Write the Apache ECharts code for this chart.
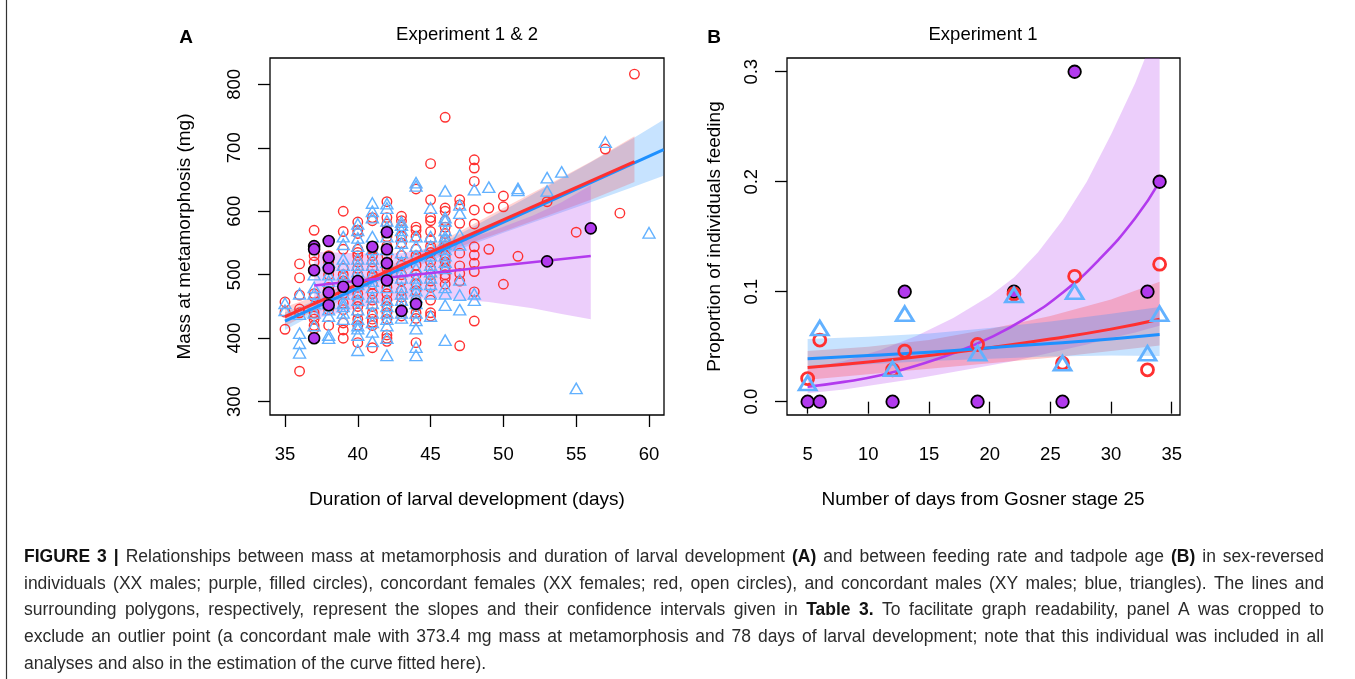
<!DOCTYPE html>
<html>
<head>
<meta charset="utf-8">
<script src="https://cdn.jsdelivr.net/npm/echarts@6/dist/echarts.min.js"></script>
<style>
html,body{margin:0;padding:0;background:#fff;}
#chart{width:1355px;height:679px;}
</style>
</head>
<body>
<div id="chart"></div>
<script>
// ---------- Panel A data: [days, mass mg] ----------
const femalesA = [
 [35,457],[35,441],[35,414],
 [36,517],[36,495],[36,468],[36,446],[36,440],[36,348],
 [37,570],[37,530],[37,520],[37,470],[37,465],[37,440],[37,435],[37,430],[37,420],[37,415],
 [38,530],[38,520],[38,500],[38,480],[38,460],[38,445],[38,420],
 [39,600],[39,568],[39,540],[39,510],[39,500],[39,490],[39,470],[39,455],[39,445],[39,424],[39,413],[39,400],
 [40,583],[40,570],[40,565],[40,540],[40,535],[40,530],[40,520],[40,510],[40,500],[40,480],[40,470],[40,460],[40,450],[40,440],[40,430],[40,420],[40,393],
 [41,590],[41,585],[41,540],[41,530],[41,520],[41,510],[41,500],[41,485],[41,470],[41,460],[41,450],[41,440],[41,430],[41,425],[41,420],[41,385],
 [42,615],[42,590],[42,580],[42,570],[42,560],[42,545],[42,530],[42,520],[42,510],[42,500],[42,480],[42,470],[42,460],[42,450],[42,440],[42,430],[42,405],[42,400],[42,395],
 [43,592],[43,585],[43,575],[43,560],[43,550],[43,530],[43,515],[43,500],[43,490],[43,475],[43,465],[43,455],[43,445],[43,435],
 [44,635],[44,575],[44,570],[44,560],[44,540],[44,530],[44,515],[44,500],[44,485],[44,475],[44,460],[44,450],[44,440],[44,431],[44,393],
 [45,675],[45,618],[45,590],[45,585],[45,568],[45,555],[45,545],[45,535],[45,520],[45,510],[45,500],[45,490],[45,480],[45,460],[45,440],[45,435],
 [46,748],[46,605],[46,600],[46,585],[46,575],[46,565],[46,555],[46,545],[46,530],[46,525],[46,520],[46,510],[46,500],[46,495],[46,485],
 [47,618],[47,610],[47,581],[47,534],[47,514],[47,502],[47,490],[47,388],
 [48,681],[48,668],[48,647],[48,602],[48,580],[48,544],[48,531],[48,518],[48,505],[48,473],[48,427],
 [49,605],[49,540],
 [50,624],[50,607],[50,485],
 [51,529],[53,615],[55,567],[57,698],[58,597],[59,816]
];
const malesA = [
 [35,455],[35,444],
 [36,470],[36,438],[36,408],[36,392],[36,377],
 [37,500],[37,480],[37,470],[37,455],[37,440],[37,420],
 [38,520],[38,500],[38,490],[38,470],[38,455],[38,445],[38,435],[38,405],[38,400],
 [39,560],[39,548],[39,525],[39,515],[39,500],[39,490],[39,480],[39,470],[39,455],[39,450],[39,440],[39,430],
 [40,580],[40,570],[40,558],[40,545],[40,525],[40,515],[40,505],[40,495],[40,485],[40,470],[40,460],[40,445],[40,430],[40,420],[40,415],[40,405],[40,381],
 [41,613],[41,600],[41,590],[41,560],[41,540],[41,525],[41,515],[41,500],[41,490],[41,480],[41,465],[41,455],[41,440],[41,425],[41,410],[41,395],
 [42,612],[42,605],[42,585],[42,575],[42,560],[42,540],[42,520],[42,500],[42,480],[42,460],[42,450],[42,440],[42,430],[42,420],[42,400],[42,373],
 [43,583],[43,578],[43,570],[43,560],[43,550],[43,535],[43,520],[43,505],[43,495],[43,480],[43,470],[43,460],[43,450],[43,440],[43,432],
 [44,645],[44,640],[44,560],[44,545],[44,530],[44,510],[44,495],[44,485],[44,475],[44,465],[44,455],[44,440],[44,428],[44,415],[44,386],[44,373],
 [45,605],[45,560],[45,545],[45,530],[45,515],[45,505],[45,495],[45,485],[45,470],[45,435],
 [46,632],[46,590],[46,585],[46,570],[46,560],[46,555],[46,548],[46,540],[46,530],[46,520],[46,510],[46,480],[46,470],[46,452],[46,397],
 [47,610],[47,597],[47,563],[47,547],[47,492],[47,468],[47,445],
 [48,634],[48,470],[48,460],
 [49,638],[51,636],[51,633],[53,653],[53,632],[54,662],[55,321],[57,709],[60,566]
];
const sexRevA = [
 [37,545],[37,540],[37,507],[37,400],
 [38,553],[38,527],[38,510],[38,472],[38,452],
 [39,481],[40,490],[41,544],
 [42,567],[42,540],[42,518],[42,491],
 [43,443],[44,454],[53,521],[56,573]
];
// fitted lines (end points)
const femaleFitA = [[35,434],[59,678]];
const maleFitA   = [[35,427],[61,697]];
const sexRevFitA = [[37,483],[56,529.5]];
// confidence polygons [days, lower, upper]
const femaleBandA = [[35,419,449],[38,456,473],[41,489,501],[44,518,533],[47,544,568],[50,568,605],[53,593,641],[56,618,678],[59,646,718]];
const maleBandA   = [[35,413,441],[38,450,467],[41,484,496],[44,513,528],[47,540,564],[50,566,601],[53,590,639],[56,614,677],[59,639,716],[61,656,744]];
const sexRevBandA = [[37,430,536],[40,447,534],[43,462,534],[46,463,547],[49,457,567],[52,447,593],[54,438,614],[56,430,641]];

// ---------- Panel B data: [days from Gosner 25, proportion feeding] ----------
const sexRevB  = [[5,0],[6,0],[12,0],[13,0.1],[19,0],[22,0.1],[26,0],[27,0.3],[33,0.1],[34,0.2]];
const femalesB = [[5,0.021],[6,0.056],[12,0.029],[13,0.046],[19,0.052],[22,0.098],[26,0.035],[27,0.114],[33,0.029],[34,0.125]];
const malesB   = [[5,0.017],[6,0.067],[12,0.030],[13,0.080],[19,0.044],[22,0.097],[26,0.035],[27,0.100],[33,0.044],[34,0.080]];
const sexRevFitB  = [[5,0.0136],[8,0.018],[11,0.024],[14,0.033],[17,0.044],[20,0.058],[23,0.076],[26,0.099],[29,0.129],[32,0.167],[34,0.2]];
const femaleFitB  = [[5,0.031],[10,0.036],[15,0.042],[20,0.049],[25,0.057],[30,0.066],[34,0.075]];
const maleFitB    = [[5,0.039],[10,0.042],[15,0.045],[20,0.049],[25,0.053],[30,0.057],[34,0.061]];
const sexRevBandB = [[5,0.0076,0.030],[8,0.011,0.037],[11,0.016,0.047],[14,0.021,0.060],[17,0.027,0.076],[20,0.033,0.096],[22,0.037,0.113],[24,0.042,0.136],[26,0.047,0.165],[28,0.052,0.200],[30,0.058,0.243],[32,0.063,0.290],[33,0.066,0.318],[34,0.069,0.350]];
const femaleBandB = [[5,0.020,0.046],[10,0.025,0.050],[15,0.030,0.056],[20,0.035,0.066],[25,0.040,0.078],[30,0.046,0.093],[34,0.051,0.109]];
const maleBandB   = [[5,0.030,0.057],[10,0.034,0.059],[15,0.037,0.062],[20,0.039,0.067],[25,0.041,0.073],[30,0.042,0.080],[34,0.0415,0.086]];

// ---------- tick labels ----------
const xTicksA = [35,40,45,50,55,60];
const yTicksA = [300,400,500,600,700,800];
const xTicksB = [5,10,15,20,25,30,35];
const yTicksB = [0,0.1,0.2,0.3];

// ---------- caption (words wrapped in * are bold) ----------
const captionLines = [
  '*FIGURE* *3* *|* Relationships between mass at metamorphosis and duration of larval development *(A)* and between feeding rate and tadpole age *(B)* in sex-reversed',
  'individuals (XX males; purple, filled circles), concordant females (XX females; red, open circles), and concordant males (XY males; blue, triangles). The lines and',
  'surrounding polygons, respectively, represent the slopes and their confidence intervals given in *Table* *3.* To facilitate graph readability, panel A was cropped to',
  'exclude an outlier point (a concordant male with 373.4 mg mass at metamorphosis and 78 days of larval development; note that this individual was included in all',
  'analyses and also in the estimation of the curve fitted here).'
];

const FONT = '"Liberation Sans", Arial, Helvetica, sans-serif';
const RED = '#ff3030', BLUE = '#1e90ff', BLUE_PT = '#62b1ff', PURPLE = '#b23aee';

function bandSeries(idx, pts, fill) {
  return {
    type: 'custom', xAxisIndex: idx, yAxisIndex: idx, z: 1, silent: true,
    data: [[pts[0][0], pts[0][1]]],
    renderItem: function (params, api) {
      const up = pts.map(p => api.coord([p[0], p[2]]));
      const lo = pts.slice().reverse().map(p => api.coord([p[0], p[1]]));
      const cs = params.coordSys;
      return {
        type: 'group',
        clipPath: {type: 'rect', shape: {x: cs.x, y: cs.y, width: cs.width, height: cs.height}},
        children: [{type: 'polygon', shape: {points: up.concat(lo)}, style: {fill: fill}}]
      };
    }
  };
}
function lineSeries(idx, data, color, width, smooth, z) {
  return {type: 'line', xAxisIndex: idx, yAxisIndex: idx, data: data, showSymbol: false, smooth: smooth,
    lineStyle: {color: color, width: width}, z: z, silent: true, animation: false};
}
function ptSeries(idx, data, symbol, size, fill, stroke, bw, z) {
  return {type: 'scatter', xAxisIndex: idx, yAxisIndex: idx, data: data, symbol: symbol, symbolSize: size,
    itemStyle: {color: fill, borderColor: stroke, borderWidth: bw, opacity: 1}, z: z, silent: true};
}
function xAxisDef(idx, min, max, ticks) {
  return {type: 'value', gridIndex: idx, min: min, max: max,
    axisLine: {show: false}, splitLine: {show: false},
    axisTick: {show: true, customValues: ticks, length: 12, lineStyle: {color: '#000', width: 1.3}},
    axisLabel: {customValues: ticks, margin: 30, fontSize: 18.5, color: '#000', fontFamily: FONT}};
}
function yAxisDef(idx, min, max, ticks, fmt) {
  return {type: 'value', gridIndex: idx, min: min, max: max,
    axisLine: {show: false}, splitLine: {show: false},
    axisTick: {show: true, customValues: ticks, length: 12, lineStyle: {color: '#000', width: 1.3}},
    axisLabel: {customValues: ticks, rotate: 90, margin: 26, fontSize: 18.5, color: '#000', fontFamily: FONT, formatter: fmt}};
}
function txt(x, y, s, size, opts) {
  return Object.assign({type: 'text', x: x, y: y, silent: true,
    style: Object.assign({text: s, fontSize: size, fontFamily: FONT, fill: '#000', textAlign: 'center', textVerticalAlign: 'middle'}, (opts && opts.style) || {})},
    (opts && opts.el) || {});
}

const graphics = [
  {type: 'line', silent: true, shape: {x1: 6.5, y1: 0, x2: 6.5, y2: 679}, style: {stroke: '#333', lineWidth: 1.2}},
  txt(186, 38, 'A', 19, {style: {fontWeight: 'bold'}}),
  txt(467, 35, 'Experiment 1 & 2', 18.5),
  txt(714, 38, 'B', 19, {style: {fontWeight: 'bold'}}),
  txt(983, 35, 'Experiment 1', 18.5),
  txt(185, 236.5, 'Mass at metamorphosis (mg)', 19, {el: {rotation: Math.PI / 2}}),
  txt(715, 236.5, 'Proportion of individuals feeding', 19, {el: {rotation: Math.PI / 2}}),
  txt(467, 500, 'Duration of larval development (days)', 19),
  txt(983, 500, 'Number of days from Gosner stage 25', 19)
];

// justified caption: each word placed as its own text element
const CAP_SIZE = 17.5, CAP_LEFT = 24, CAP_WIDTH = 1300, CAP_Y0 = 557, CAP_STEP = 26.8;
const mctx = document.createElement('canvas').getContext('2d');
function measure(w, bold) {
  mctx.font = (bold ? 'bold ' : '') + CAP_SIZE + 'px ' + FONT;
  return mctx.measureText(w).width;
}
captionLines.forEach((line, i) => {
  const toks = line.split(' ').map(w => {
    const bold = /^\*.*\*$/.test(w);
    const t = w.replace(/\*/g, '');
    return {t: t, bold: bold, w: measure(t, bold)};
  });
  const total = toks.reduce((s, k) => s + k.w, 0);
  const last = i === captionLines.length - 1;
  const gap = last ? measure(' ', false) : (CAP_WIDTH - total) / (toks.length - 1);
  let x = CAP_LEFT;
  const y = CAP_Y0 + i * CAP_STEP;
  toks.forEach(k => {
    graphics.push({type: 'text', x: x, y: y, silent: true,
      style: {text: k.t, fontSize: CAP_SIZE, fontFamily: FONT, fontWeight: k.bold ? 'bold' : 'normal',
        fill: k.bold ? '#111' : '#2b2b2b', textAlign: 'left', textVerticalAlign: 'middle'}});
    x += k.w + gap;
  });
});

const chart = echarts.init(document.getElementById('chart'), null, {renderer: 'canvas'});
chart.setOption({
  animation: false,
  backgroundColor: '#fff',
  grid: [
    {left: 270, top: 58, width: 394, height: 357, show: true, borderColor: '#000', borderWidth: 1.3, backgroundColor: 'transparent'},
    {left: 787, top: 58, width: 393, height: 357, show: true, borderColor: '#000', borderWidth: 1.3, backgroundColor: 'transparent'}
  ],
  xAxis: [xAxisDef(0, 33.97, 61.03, xTicksA), xAxisDef(1, 3.30, 35.68, xTicksB)],
  yAxis: [yAxisDef(0, 279, 841.4, yTicksA, v => String(v)), yAxisDef(1, -0.0121, 0.3125, yTicksB, v => v.toFixed(1))],
  series: [
    bandSeries(0, maleBandA, 'rgba(30,144,255,0.25)'),
    bandSeries(0, femaleBandA, 'rgba(255,48,48,0.22)'),
    bandSeries(0, sexRevBandA, 'rgba(178,58,238,0.25)'),
    ptSeries(0, femalesA, 'circle', 9.5, 'rgba(0,0,0,0)', RED, 1.4, 2),
    ptSeries(0, malesA, 'triangle', [12, 10.5], 'rgba(0,0,0,0)', BLUE_PT, 1.4, 3),
    lineSeries(0, maleFitA, BLUE, 3, false, 4),
    lineSeries(0, femaleFitA, RED, 3, false, 4),
    lineSeries(0, sexRevFitA, PURPLE, 2.6, false, 4),
    ptSeries(0, sexRevA, 'circle', 11, PURPLE, '#000', 1.6, 5),

    bandSeries(1, sexRevBandB, 'rgba(178,58,238,0.25)'),
    bandSeries(1, femaleBandB, 'rgba(255,48,48,0.25)'),
    bandSeries(1, maleBandB, 'rgba(30,144,255,0.25)'),
    lineSeries(1, sexRevFitB, PURPLE, 2.6, true, 2),
    lineSeries(1, femaleFitB, RED, 3, true, 2),
    lineSeries(1, maleFitB, BLUE, 3, true, 2),
    ptSeries(1, sexRevB, 'circle', 12.5, PURPLE, '#000', 1.8, 3),
    ptSeries(1, femalesB, 'circle', 12, 'rgba(0,0,0,0)', RED, 2.8, 4),
    ptSeries(1, malesB, 'triangle', [17, 14], 'rgba(0,0,0,0)', BLUE_PT, 2.8, 5)
  ],
  graphic: graphics
});
</script>
</body>
</html>
